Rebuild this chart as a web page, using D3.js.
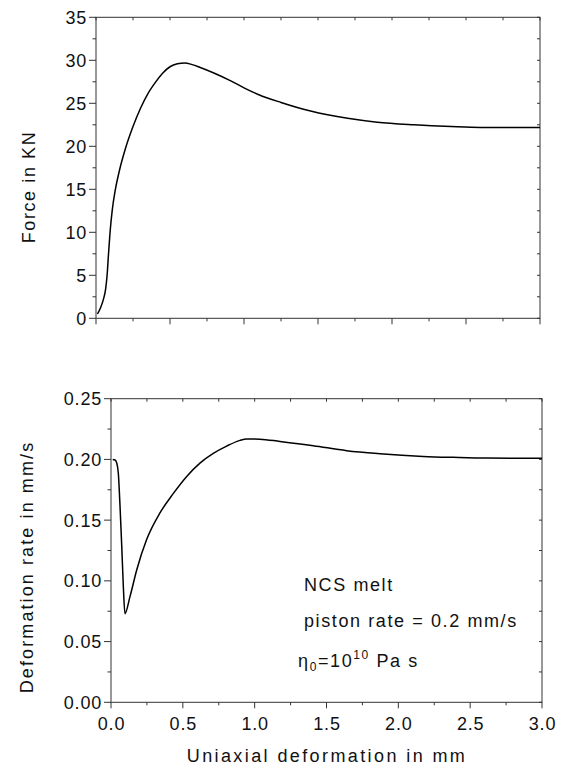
<!DOCTYPE html>
<html lang="en">
<head>
<meta charset="UTF-8">
<title>Force and deformation rate</title>
<script src="https://d3js.org/d3.v7.min.js"></script>
<style>
    body { margin: 0; background: #fff; }
    svg { display: block; }
    text { font-family: "Liberation Sans", Arial, sans-serif; fill: #111; }
</style>
</head>
<body>
<div id="chart"></div>
<script>
// Force curve (top panel)
const forceX = [0.01, 0.03, 0.05, 0.065, 0.075, 0.085, 0.095, 0.11, 0.13, 0.16, 0.2, 0.25, 0.3, 0.35, 0.4, 0.45, 0.5, 0.55, 0.6, 0.65, 0.7, 0.8, 0.9, 1.0, 1.1, 1.25, 1.45, 1.7, 1.9, 2.15, 2.4, 2.6, 2.8, 3.0];
const forceY = [0.5, 1.2, 2.2, 3.4, 5.0, 7.6, 10.0, 12.6, 14.9, 17.3, 19.8, 22.3, 24.4, 26.1, 27.4, 28.5, 29.25, 29.6, 29.7, 29.5, 29.2, 28.5, 27.7, 26.8, 26.0, 25.1, 24.1, 23.25, 22.8, 22.5, 22.3, 22.2, 22.2, 22.2];

// Deformation rate curve (bottom panel)
const rateX = [0.012, 0.028, 0.04, 0.051, 0.063, 0.075, 0.086, 0.097, 0.132, 0.179, 0.248, 0.341, 0.434, 0.527, 0.619, 0.712, 0.805, 0.898, 0.944, 1.037, 1.176, 1.408, 1.64, 1.872, 2.173, 2.382, 2.614, 3.0];
const rateY = [0.2, 0.1995, 0.197, 0.1886, 0.161, 0.128, 0.095, 0.073, 0.087, 0.109, 0.134, 0.156, 0.172, 0.186, 0.197, 0.205, 0.211, 0.2157, 0.2169, 0.2167, 0.2148, 0.2113, 0.2072, 0.2047, 0.2025, 0.2017, 0.2011, 0.201];

const xMajor = [0, 0.5, 1, 1.5, 2, 2.5, 3];
const xMinor = [0.25, 0.75, 1.25, 1.75, 2.25, 2.75];
const xLabels = ["0.0", "0.5", "1.0", "1.5", "2.0", "2.5", "3.0"];
const forceMajor = [0, 5, 10, 15, 20, 25, 30, 35];
const forceMinor = [2.5, 7.5, 12.5, 17.5, 22.5, 27.5, 32.5];
const rateMajor = [0, 0.05, 0.1, 0.15, 0.2, 0.25];
const rateMinor = [0.025, 0.075, 0.125, 0.175, 0.225];
const rateLabels = ["0.00", "0.05", "0.10", "0.15", "0.20", "0.25"];
const notes = ["NCS melt", "piston rate = 0.2 mm/s"];

const W = 561, H = 768;
const svg = d3.select("#chart").append("svg").attr("width", W).attr("height", H);

function panel(o) {
    const x = d3.scaleLinear().domain([0, 3]).range([o.left, o.right]);
    const y = d3.scaleLinear().domain(o.yDomain).range([o.bottom, o.top]);
    const g = svg.append("g");
    const axisColor = "#333";

    // frame
    g.append("rect")
        .attr("x", o.left).attr("y", o.top)
        .attr("width", o.right - o.left).attr("height", o.bottom - o.top)
        .attr("fill", "none").attr("stroke", axisColor).attr("stroke-width", 1);

    const tick = (x1, y1, x2, y2) => g.append("line")
        .attr("x1", x1).attr("y1", y1).attr("x2", x2).attr("y2", y2)
        .attr("stroke", axisColor).attr("stroke-width", 1);

    // left ticks (outward)
    o.yMajor.forEach(v => tick(o.left - 7, y(v), o.left, y(v)));
    o.yMinor.forEach(v => tick(o.left - 3.5, y(v), o.left, y(v)));
    // right ticks (inward)
    o.yMajor.concat(o.yMinor).forEach(v => tick(o.right - 3, y(v), o.right, y(v)));
    // bottom ticks (outward)
    xMajor.forEach(v => tick(x(v), o.bottom, x(v), o.bottom + 6));
    xMinor.forEach(v => tick(x(v), o.bottom, x(v), o.bottom + 3));
    // top ticks (inward)
    xMajor.concat(xMinor).forEach(v => tick(x(v), o.top, x(v), o.top + 3));

    // y labels
    g.selectAll(".yl").data(o.yMajor).enter().append("text")
        .attr("x", o.left - 9).attr("y", d => y(d))
        .attr("dy", "0.36em")
        .attr("text-anchor", "end")
        .style("font-size", "18px").style("letter-spacing", "0.8px")
        .text((d, i) => o.yLabels[i]);

    if (o.xLabels) {
        g.selectAll(".xl").data(xMajor).enter().append("text")
            .attr("x", d => x(d) + 0.5).attr("y", o.bottom + 28)
            .attr("text-anchor", "middle")
            .style("font-size", "18px").style("letter-spacing", "0.8px")
            .text((d, i) => xLabels[i]);
    }

    // y title
    g.append("text")
        .attr("transform", `translate(${o.titleX},${o.titleY}) rotate(-90)`)
        .attr("text-anchor", "middle")
        .style("font-size", "18px").style("letter-spacing", o.titleSpacing)
        .text(o.title);

    const line = d3.line()
        .x(d => x(d[0])).y(d => y(d[1]))
        .curve(d3.curveMonotoneX);
    g.append("path")
        .datum(o.xs.map((v, i) => [v, o.ys[i]]))
        .attr("d", line)
        .attr("fill", "none").attr("stroke", "#000").attr("stroke-width", 1.5);

    return { x, y, g };
}

panel({
    left: 96, right: 540, top: 17.3, bottom: 318.3,
    yDomain: [0, 35], yMajor: forceMajor, yMinor: forceMinor,
    yLabels: forceMajor.map(String),
    xLabels: false,
    title: "Force in KN", titleX: 35, titleY: 187, titleSpacing: "1.6px",
    xs: forceX, ys: forceY
});

const bottom = panel({
    left: 111, right: 542, top: 398.7, bottom: 702.3,
    yDomain: [0, 0.25], yMajor: rateMajor, yMinor: rateMinor,
    yLabels: rateLabels,
    xLabels: true,
    title: "Deformation rate in mm/s", titleX: 33, titleY: 567, titleSpacing: "2.1px",
    xs: rateX, ys: rateY
});

// x title
svg.append("text")
    .attr("x", 327).attr("y", 762)
    .attr("text-anchor", "middle")
    .style("font-size", "18px").style("letter-spacing", "2.4px")
    .text("Uniaxial deformation in mm");

// annotations
const ann = svg.append("g").style("font-size", "18px").style("letter-spacing", "1.6px");
ann.append("text").attr("x", 304).attr("y", 591).text(notes[0]);
ann.append("text").attr("x", 304).attr("y", 627).text(notes[1]);
const eta = ann.append("text").attr("x", 298).attr("y", 667);
eta.append("tspan").text("\u03b7");
eta.append("tspan").attr("dy", 4).style("font-size", "12px").text("0");
eta.append("tspan").attr("dy", -4).text("=10");
eta.append("tspan").attr("dy", -8).style("font-size", "12px").text("10");
eta.append("tspan").attr("dy", 8).text(" Pa s");
</script>
</body>
</html>
